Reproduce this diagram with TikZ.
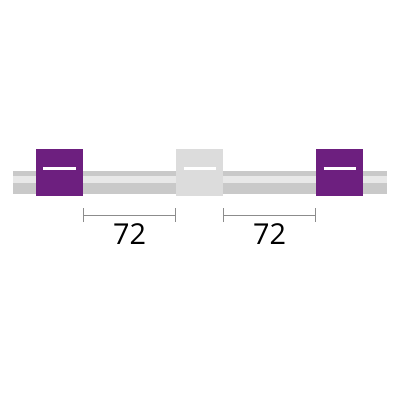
\documentclass[tikz,border=0pt]{standalone}
\usepackage{fontspec}
\setmainfont{Open Sans}
\usetikzlibrary{positioning,arrows.meta}
\definecolor{tubedark}{HTML}{C9C9C9}
\definecolor{tubelight}{HTML}{E8E8E8}
\definecolor{capgrey}{HTML}{DCDCDC}
\definecolor{cappurple}{HTML}{6D1F7F}
\definecolor{dimgrey}{HTML}{8C8C8C}
\begin{document}
\begin{tikzpicture}[x=0.025cm,y=-0.025cm,
  block/.style={minimum size=1.175cm,inner sep=0pt,outer sep=0pt},
  dashmark/.style={white,line width=1.9pt},
  dimline/.style={dimgrey,line width=0.6pt,{Bar[width=0.35cm]}-{Bar[width=0.35cm]}},
  every node/.style={font=\fontsize{20.5}{24}\selectfont}]
  \useasboundingbox (0,0) rectangle (400,400);
  % tube
  \fill[tubedark] (13,170.5) rectangle (387,194);
  \fill[tubelight] (13,176) rectangle (387,183);
  % marker blocks
  \node[block,fill=cappurple] (left) at (59.5,172.5) {};
  \node[block,fill=capgrey,right=2.325cm of left] (mid) {};
  \node[block,fill=cappurple,right=2.325cm of mid] (right) {};
  \draw[dashmark] ([xshift=-0.4cm,yshift=0.1cm]left.center) -- ([xshift=0.4cm,yshift=0.1cm]left.center);
  \draw[dashmark] ([xshift=-0.4cm,yshift=0.1cm]mid.center) -- ([xshift=0.4cm,yshift=0.1cm]mid.center);
  \draw[dashmark] ([xshift=-0.4cm,yshift=0.1cm]right.center) -- ([xshift=0.4cm,yshift=0.1cm]right.center);
  % spacings
  \coordinate (a1) at ([yshift=-0.475cm]left.south east);
  \coordinate (a2) at ([yshift=-0.475cm]mid.south west);
  \coordinate (b1) at ([yshift=-0.475cm]mid.south east);
  \coordinate (b2) at ([yshift=-0.475cm]right.south west);
  \draw[dimline] (a1) -- node[midway,yshift=-0.475cm,text=black] {72} (a2);
  \draw[dimline] (b1) -- node[midway,yshift=-0.475cm,text=black] {72} (b2);
\end{tikzpicture}
\end{document}
